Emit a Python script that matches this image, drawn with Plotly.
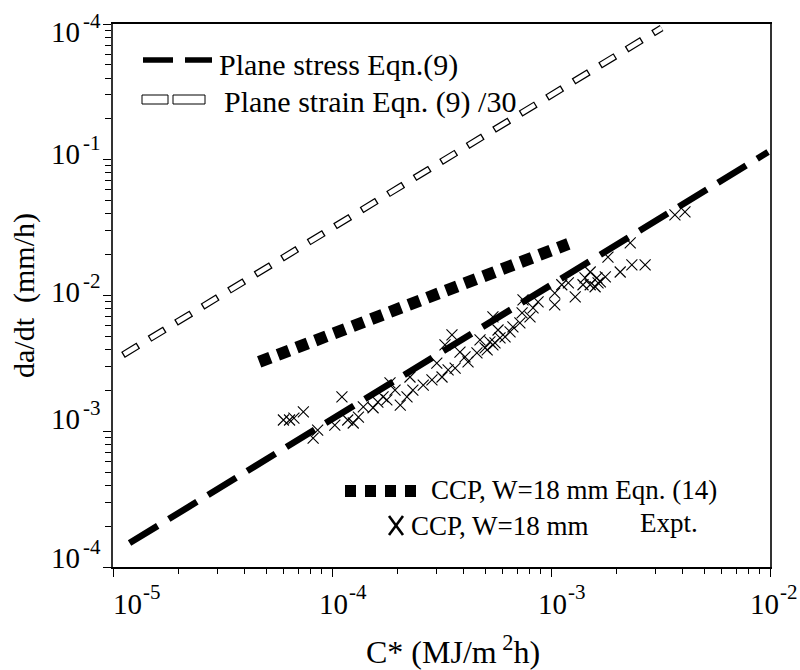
import math
import plotly.graph_objects as go

# ---------------- data ----------------
C_stress = [1.19e-5, 9.8e-3]          # Plane stress Eqn.(9)
dadt_stress = [1.5e-4, 0.114]

C_strain = [1.11e-5, 3.2e-3]          # Plane strain Eqn.(9)/30
dadt_strain = [3.65e-3, 0.933]

C_eqn14 = [4.65e-5, 1.2e-3]           # CCP, W=18 mm Eqn.(14)
dadt_eqn14 = [3.24e-3, 2.4e-2]

C_expt = [6.0e-5, 6.4e-5, 6.7e-5, 7.4e-5, 8.2e-5, 8.6e-5, 1.11e-4, 1.03e-4, 1.18e-4, 1.25e-4,
          1.32e-4, 1.39e-4, 1.54e-4, 1.62e-4, 1.78e-4, 1.71e-4, 1.84e-4, 2.05e-4, 1.94e-4, 2.20e-4,
          2.34e-4, 2.27e-4, 2.61e-4, 2.86e-4, 3.01e-4, 3.18e-4, 3.39e-4, 3.65e-4, 3.53e-4, 3.28e-4,
          3.84e-4, 4.05e-4, 4.18e-4, 4.59e-4, 4.74e-4, 5.00e-4, 5.26e-4, 5.55e-4, 5.11e-4, 5.43e-4,
          5.73e-4, 5.43e-4, 5.85e-4, 6.17e-4, 6.50e-4, 6.70e-4, 7.21e-4, 7.38e-4, 7.45e-4, 8.02e-4,
          8.28e-4, 8.73e-4, 1.04e-3, 1.04e-3, 1.12e-3, 1.29e-3, 1.20e-3, 1.40e-3, 1.51e-3, 1.64e-3,
          1.51e-3, 1.43e-3, 1.62e-3, 1.68e-3, 1.59e-3, 1.77e-3, 1.82e-3, 2.07e-3, 2.34e-3, 2.69e-3,
          2.30e-3, 3.68e-3, 4.09e-3]
dadt_expt = [1.21e-3, 1.21e-3, 1.25e-3, 1.39e-3, 8.9e-4, 1.02e-3, 1.79e-3, 1.11e-3, 1.21e-3, 1.15e-3,
             1.27e-3, 1.51e-3, 1.49e-3, 1.64e-3, 1.70e-3, 1.79e-3, 2.27e-3, 1.56e-3, 2.01e-3, 1.79e-3,
             2.01e-3, 2.51e-3, 2.19e-3, 2.39e-3, 3.18e-3, 2.51e-3, 2.83e-3, 2.92e-3, 5.13e-3, 4.33e-3,
             3.83e-3, 3.53e-3, 3.24e-3, 3.78e-3, 4.71e-3, 4.11e-3, 4.55e-3, 4.48e-3, 3.97e-3, 6.95e-3,
             5.57e-3, 4.33e-3, 4.88e-3, 4.96e-3, 5.40e-3, 5.87e-3, 6.28e-3, 7.45e-3, 9.29e-3, 6.95e-3,
             8.11e-3, 8.97e-3, 8.53e-3, 1.04e-2, 1.20e-2, 9.77e-3, 1.24e-2, 1.20e-2, 1.20e-2, 1.24e-2,
             1.49e-2, 1.35e-2, 1.35e-2, 1.26e-2, 1.16e-2, 1.37e-2, 1.92e-2, 1.49e-2, 1.68e-2, 1.68e-2,
             2.44e-2, 3.93e-2, 4.13e-2]

x_tick_vals = [1e-5, 1e-4, 1e-3, 1e-2]
x_tick_exps = ["-5", "-4", "-3", "-2"]
y_tick_vals = [1e-4, 1e-3, 1e-2, 1e-1, 1e0]
y_tick_exps = ["-4", "-3", "-2", "-1", "-4"]

legend_stress = "Plane stress Eqn.(9)"
legend_strain = "Plane strain Eqn. (9) /30"
legend_eqn14 = "CCP, W=18 mm Eqn. (14)"
legend_expt = "CCP, W=18 mm"
legend_expt2 = "Expt."
x_title = "C* (MJ/m<sup> 2</sup>h)"
y_title = "da/dt  (mm/h)"

# ---------------- layout geometry ----------------
W, H = 800, 670
ML, MR, MT, MB = 113, 30, 24, 103
PW, PH = W - ML - MR, H - MT - MB
FONT = "Liberation Serif"


def px(x):
    return (x - ML) / PW


def py(y):
    return (MT + PH - y) / PH


fig = go.Figure()

fig.add_trace(go.Scatter(
    x=C_expt, y=dadt_expt, mode="markers",
    marker=dict(symbol="x-thin", size=11, line=dict(width=1.1, color="black"), color="black"),
    showlegend=False, hoverinfo="skip"))

fig.add_trace(go.Scatter(
    x=C_stress, y=dadt_stress, mode="lines",
    line=dict(color="black", width=6.5, dash="33px,13px"),
    showlegend=False, hoverinfo="skip"))

fig.add_trace(go.Scatter(
    x=C_strain, y=dadt_strain, mode="lines",
    line=dict(color="black", width=7, dash="18px,13px"),
    showlegend=False, hoverinfo="skip"))
fig.add_trace(go.Scatter(
    x=C_strain, y=dadt_strain, mode="lines",
    line=dict(color="white", width=4.6, dash="0px,1.3px,15.4px,14.3px"),
    showlegend=False, hoverinfo="skip"))

fig.add_trace(go.Scatter(
    x=C_eqn14, y=dadt_eqn14, mode="lines",
    line=dict(color="black", width=12, dash="12px,8px"),
    showlegend=False, hoverinfo="skip"))

ann = []
shapes = []

# x tick labels
x_shift = [14, 1, 1, -6]
for v, e, s in zip(x_tick_vals, x_tick_exps, x_shift):
    ann.append(dict(x=math.log10(v), y=0, xref="x", yref="paper", text="10",
                    xanchor="center", yanchor="middle", xshift=s, yshift=-(604 - 567),
                    showarrow=False, font=dict(family=FONT, size=29, color="black")))
    ann.append(dict(x=math.log10(v), y=0, xref="x", yref="paper", text=e,
                    xanchor="left", yanchor="middle", xshift=s + 14, yshift=-(592 - 567),
                    showarrow=False, font=dict(family=FONT, size=21, color="black")))

# y tick labels
y_shift = [9, 12, 4, 6, -8]
for v, e, s in zip(y_tick_vals, y_tick_exps, y_shift):
    ann.append(dict(x=0, y=math.log10(v), xref="paper", yref="y", text="10",
                    xanchor="right", yanchor="middle", xshift=82 - ML, yshift=s,
                    showarrow=False, font=dict(family=FONT, size=29, color="black")))
    ann.append(dict(x=0, y=math.log10(v), xref="paper", yref="y", text=e,
                    xanchor="left", yanchor="middle", xshift=81 - ML, yshift=s + 11,
                    showarrow=False, font=dict(family=FONT, size=21, color="black")))

# axis titles
ann.append(dict(x=px(453), y=py(650), xref="paper", yref="paper", text=x_title,
                xanchor="center", yanchor="middle", showarrow=False,
                font=dict(family=FONT, size=32, color="black")))
ann.append(dict(x=px(24), y=py(296), xref="paper", yref="paper", text=y_title,
                textangle=-90, xanchor="center", yanchor="middle", showarrow=False,
                font=dict(family=FONT, size=30, color="black")))

# legend texts
ann.append(dict(x=px(217), y=py(65), xref="paper", yref="paper", text=legend_stress,
                xanchor="left", yanchor="middle", showarrow=False,
                font=dict(family=FONT, size=30, color="black")))
ann.append(dict(x=px(222), y=py(102), xref="paper", yref="paper", text=legend_strain,
                xanchor="left", yanchor="middle", showarrow=False,
                font=dict(family=FONT, size=30, color="black")))
ann.append(dict(x=px(429), y=py(490), xref="paper", yref="paper", text=legend_eqn14,
                xanchor="left", yanchor="middle", showarrow=False,
                font=dict(family=FONT, size=27, color="black")))
ann.append(dict(x=px(409), y=py(526), xref="paper", yref="paper", text=legend_expt,
                xanchor="left", yanchor="middle", showarrow=False,
                font=dict(family=FONT, size=27, color="black")))
ann.append(dict(x=px(638), y=py(523), xref="paper", yref="paper", text=legend_expt2,
                xanchor="left", yanchor="middle", showarrow=False,
                font=dict(family=FONT, size=27, color="black")))

# legend symbols
shapes.append(dict(type="line", xref="paper", yref="paper",
                   x0=px(143), x1=px(212), y0=py(60), y1=py(60),
                   line=dict(color="black", width=5.5, dash="30px,12px")))
for a, b in [(142, 168), (173, 205)]:
    shapes.append(dict(type="rect", xref="paper", yref="paper",
                       x0=px(a), x1=px(b), y0=py(95), y1=py(104),
                       line=dict(color="black", width=1), fillcolor="white"))
for a in [345, 365, 385, 405]:
    shapes.append(dict(type="rect", xref="paper", yref="paper",
                       x0=px(a), x1=px(a + 11), y0=py(485), y1=py(497),
                       line=dict(width=0), fillcolor="black"))
for (xa, ya, xb, yb) in [(389, 516, 403, 535), (389, 535, 403, 516)]:
    shapes.append(dict(type="line", xref="paper", yref="paper",
                       x0=px(xa), x1=px(xb), y0=py(ya), y1=py(yb),
                       line=dict(color="black", width=2.6)))

x_minor = [m * 10 ** d for d in range(-5, -2) for m in range(2, 10)]
y_minor = [m * 10 ** d for d in range(-4, 0) for m in range(2, 10)]

fig.update_layout(
    width=W, height=H,
    margin=dict(l=ML, r=MR, t=MT, b=MB, pad=0),
    paper_bgcolor="white", plot_bgcolor="white",
    showlegend=False,
    annotations=ann, shapes=shapes,
    xaxis=dict(type="log", range=[-5, -2], showgrid=False, zeroline=False,
               showline=True, mirror=True, linecolor="black", linewidth=1.6,
               ticks="outside", ticklen=8, tickwidth=1.3, tickcolor="black",
               tickmode="array", tickvals=x_tick_vals, showticklabels=False,
               minor=dict(ticks="outside", ticklen=5, tickwidth=1, tickcolor="black",
                          tickmode="array", tickvals=x_minor, showgrid=False)),
    yaxis=dict(type="log", range=[-4, 0], showgrid=False, zeroline=False,
               showline=True, mirror=True, linecolor="#333333", linewidth=1.5,
               ticks="outside", ticklen=8, tickwidth=1.3, tickcolor="black",
               tickmode="array", tickvals=y_tick_vals, showticklabels=False,
               minor=dict(ticks="outside", ticklen=6, tickwidth=1, tickcolor="black",
                          tickmode="array", tickvals=y_minor, showgrid=False)),
)

fig.write_html("out.html")
